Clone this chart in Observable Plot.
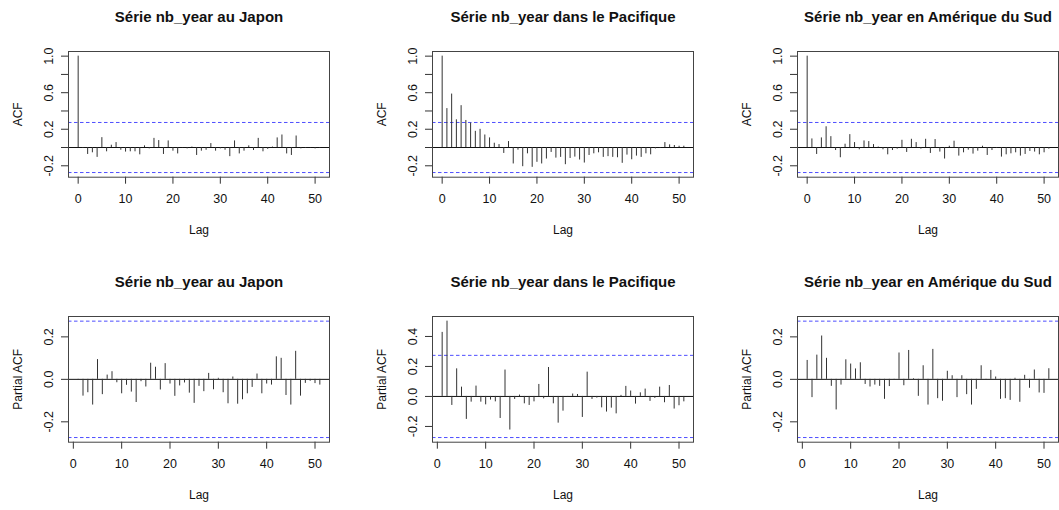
<!DOCTYPE html>
<html><head><meta charset="utf-8">
<script src="https://cdn.jsdelivr.net/npm/d3@7"></script>
<script src="https://cdn.jsdelivr.net/npm/@observablehq/plot@0.6"></script>
<style>
html,body{margin:0;padding:0;background:#fff;}
#root{position:relative;width:1059px;height:510px;overflow:hidden;font-family:"Liberation Sans",Arial,Helvetica,sans-serif;}
.panel{position:absolute;width:364px;height:265px;}
.panel svg{max-width:none !important;}
</style></head><body><div id="root"></div>
<script>
// ---- data ----
const acfLags = [0,1,2,3,4,5,6,7,8,9,10,11,12,13,14,15,16,17,18,19,20,21,22,23,24,25,26,27,28,29,30,31,32,33,34,35,36,37,38,39,40,41,42,43,44,45,46,47,48,49,50,51];
const pacfLags = [1,2,3,4,5,6,7,8,9,10,11,12,13,14,15,16,17,18,19,20,21,22,23,24,25,26,27,28,29,30,31,32,33,34,35,36,37,38,39,40,41,42,43,44,45,46,47,48,49,50,51];

const acfJapon = [1.0,-0.01,-0.076,-0.058,-0.108,0.108,-0.047,0.025,0.054,-0.03,-0.05,-0.047,-0.047,-0.08,0.018,-0.015,0.10,0.076,-0.076,0.072,-0.04,-0.07,-0.005,-0.015,0.005,-0.087,-0.04,-0.03,0.043,-0.04,-0.015,-0.03,-0.10,0.072,-0.07,-0.04,0.018,-0.033,0.10,-0.047,-0.02,0.005,0.105,0.137,-0.07,-0.087,0.126,-0.015,-0.01,-0.005,-0.015,-0.01];
const acfPacifique = [1.0,0.426,0.585,0.303,0.458,0.296,0.267,0.177,0.199,0.137,0.105,0.047,0.032,-0.065,0.065,-0.18,-0.029,-0.21,-0.069,-0.217,-0.162,-0.18,-0.126,-0.054,-0.116,-0.108,-0.188,-0.12,-0.105,-0.137,-0.17,-0.087,-0.069,-0.058,-0.108,-0.10,-0.108,-0.112,-0.173,-0.083,-0.134,-0.094,-0.108,-0.069,-0.08,-0.015,-0.01,0.054,0.029,0.022,0.014,0.014];
const acfSud = [1.0,0.094,-0.076,0.105,0.227,0.119,-0.033,-0.112,0.036,0.141,0.054,-0.025,0.072,0.065,0.032,0.005,-0.025,-0.08,-0.033,-0.018,0.079,-0.054,0.09,0.054,-0.018,0.09,-0.065,0.087,-0.05,-0.126,0.014,0.069,-0.094,-0.058,-0.029,-0.072,-0.04,0.014,-0.087,-0.033,-0.01,-0.105,-0.08,-0.069,-0.058,-0.094,-0.076,-0.043,-0.05,-0.08,-0.058,-0.018];

const pacfJapon = [-0.005,-0.079,-0.063,-0.121,0.093,-0.072,0.02,0.036,-0.016,-0.068,-0.028,-0.06,-0.109,-0.011,-0.036,0.076,0.057,-0.05,0.074,-0.022,-0.08,-0.031,-0.017,-0.065,-0.113,-0.033,-0.058,0.028,-0.049,0.005,-0.063,-0.115,0.011,-0.117,-0.096,-0.068,-0.038,0.025,-0.068,-0.022,-0.027,0.106,0.099,-0.076,-0.121,0.132,-0.079,-0.019,-0.009,-0.02,-0.027];
const pacfPacifique = [0.427,0.502,-0.06,0.184,0.062,-0.153,-0.038,0.069,-0.038,-0.056,-0.024,-0.036,-0.147,0.176,-0.224,-0.02,0.009,-0.049,-0.06,-0.036,0.08,-0.016,0.193,-0.049,-0.178,-0.098,-0.004,0.016,0.013,-0.14,0.162,-0.02,-0.011,-0.076,-0.104,-0.078,-0.116,0.007,0.067,0.036,-0.051,0.024,0.049,-0.033,-0.013,0.062,-0.042,0.073,-0.084,-0.062,-0.036];
const pacfSud = [0.089,-0.086,0.114,0.204,0.099,-0.033,-0.144,-0.027,0.092,0.072,0.049,0.078,-0.024,-0.036,-0.027,-0.033,-0.094,-0.034,-0.003,0.124,-0.03,0.136,0.003,-0.08,0.064,-0.121,0.141,-0.091,-0.103,0.038,0.017,-0.086,0.017,-0.072,-0.121,-0.047,0.064,-0.003,0.042,0.011,-0.094,-0.091,-0.099,0.005,-0.108,0.019,-0.042,0.044,-0.064,-0.066,0.05];

const titles = ["Série nb_year au Japon", "Série nb_year dans le Pacifique", "Série nb_year en Amérique du Sud"];
const xTickValues = [0,10,20,30,40,50];
const acfYTicks = [-0.2,0,0.2,0.4,0.6,0.8,1.0];
const acfYLabels = [{v:-0.2,t:"-0.2"},{v:0.2,t:"0.2"},{v:0.6,t:"0.6"},{v:1.0,t:"1.0"}];
const pacfYTicks = [-0.2,0,0.2];
const pacfYLabels = [{v:-0.2,t:"-0.2"},{v:0,t:"0.0"},{v:0.2,t:"0.2"}];
const pacfPacYTicks = [-0.2,0,0.2,0.4];
const pacfPacYLabels = [{v:-0.2,t:"-0.2"},{v:0,t:"0.0"},{v:0.2,t:"0.2"},{v:0.4,t:"0.4"}];
const clim = 0.274;

// ---- drawing ----
const FONT = '"Liberation Sans", Arial, Helvetica, sans-serif';
const root = document.getElementById("root");

function ext(lo, hi) { const d = (hi - lo) * 0.04; return [lo - d, hi + d]; }

function panel({lagsArr, values, title, ylabel, yTicks, yLabels, left, top}) {
  const data = values.map((v, i) => ({lag: lagsArr[i], v}));
  const W = 364, H = 265, boxW = 261, boxH = 125.7;
  const xdom = ext(d3.min(lagsArr), d3.max(lagsArr));
  const ydom = ext(Math.min(-clim, d3.min(values)), Math.max(clim, d3.max(values)));
  const svg = Plot.plot({
    width: W, height: H,
    marginLeft: 68, marginRight: W - 68 - boxW, marginTop: 51, marginBottom: H - 51 - boxH,
    style: {fontFamily: FONT, fontSize: "12px", background: "transparent", overflow: "visible", color: "#111", maxWidth: "none"},
    x: {domain: xdom, nice: false},
    y: {domain: ydom, nice: false},
    marks: [
      Plot.axisX({ticks: xTickValues, tickSize: 7, tickPadding: 10, tickFormat: d => String(d), label: null, fontSize: 12.5, stroke: "#333"}),
      Plot.axisY({ticks: yTicks, tickSize: 7, tickFormat: () => "", label: null, stroke: "#333"}),
      Plot.text(yLabels, {y: "v", text: "t", frameAnchor: "left", textAnchor: "middle", lineAnchor: "middle", rotate: -90, dx: -20, fontSize: 12.5, fill: "#111"}),
      Plot.ruleY([clim, -clim], {stroke: "#4f4fff", strokeDasharray: "3.5,2.5"}),
      Plot.ruleY([0], {stroke: "#111"}),
      Plot.ruleX(data, {x: "lag", y1: 0, y2: "v", stroke: "#333"}),
      Plot.frame({stroke: "#444"}),
      Plot.text([title], {frameAnchor: "top", textAnchor: "middle", lineAnchor: "middle", dy: -34.3, fontWeight: "bold", fontSize: 15, fill: "#111"}),
      Plot.text(["Lag"], {frameAnchor: "bottom", textAnchor: "middle", lineAnchor: "middle", dy: 53.3, fontSize: 12, fill: "#111"}),
      Plot.text([ylabel], {frameAnchor: "left", textAnchor: "middle", lineAnchor: "middle", dx: -50, rotate: -90, fontSize: 12, fill: "#111"})
    ]
  });
  const div = document.createElement("div");
  div.className = "panel";
  div.style.left = left + "px";
  div.style.top = top + "px";
  div.appendChild(svg);
  root.appendChild(div);
}

const colLeft = [0.3, 364.3, 728.7];
const rowTop = [0, 264.7];
const acfSeries = [acfJapon, acfPacifique, acfSud];
const pacfSeries = [pacfJapon, pacfPacifique, pacfSud];
for (let i = 0; i < 3; i++) {
  panel({lagsArr: acfLags, values: acfSeries[i], title: titles[i], ylabel: "ACF",
         yTicks: acfYTicks, yLabels: acfYLabels, left: colLeft[i], top: rowTop[0]});
  panel({lagsArr: pacfLags, values: pacfSeries[i], title: titles[i], ylabel: "Partial ACF",
         yTicks: i === 1 ? pacfPacYTicks : pacfYTicks, yLabels: i === 1 ? pacfPacYLabels : pacfYLabels,
         left: colLeft[i], top: rowTop[1]});
}
</script>
</body></html>
